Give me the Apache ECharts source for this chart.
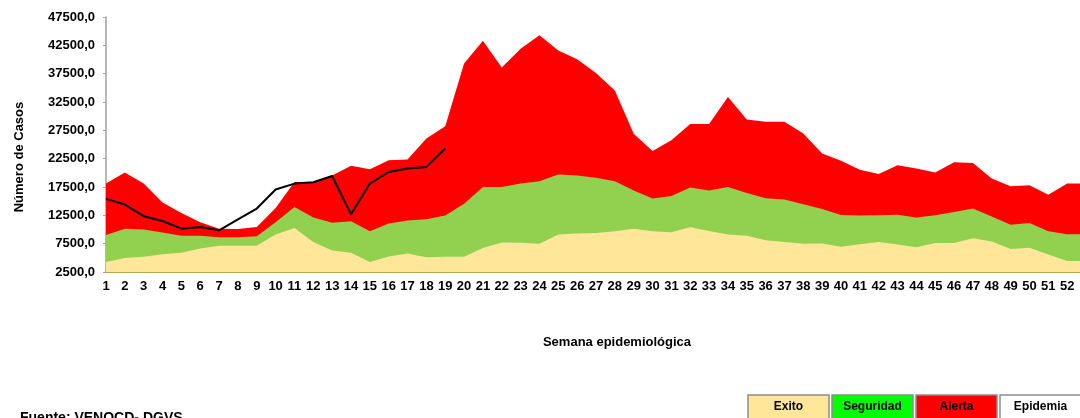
<!DOCTYPE html>
<html>
<head>
<meta charset="utf-8">
<title>Canal endémico</title>
<script src="https://cdn.jsdelivr.net/npm/echarts@6/dist/echarts.min.js"></script>
<style>
  html, body { margin: 0; padding: 0; background: #fff; }
  #chart { width: 1080px; height: 418px; }
</style>
</head>
<body>
<div id="chart"></div>
<script>
  // semanas (53 = continuation cut off at the right edge)
  const semanas = ['1','2','3','4','5','6','7','8','9','10','11','12','13','14','15','16','17','18','19','20',
    '21','22','23','24','25','26','27','28','29','30','31','32','33','34','35','36','37','38','39','40',
    '41','42','43','44','45','46','47','48','49','50','51','52','53']

  // upper limit of each zone
  const exito = [4250, 4950, 5200, 5650, 5900, 6650, 7150, 7150, 7150, 9100, 10250, 7800, 6300, 5900, 4250, 5250, 5750, 5100, 5200, 5200,
    6750, 7700, 7650, 7500, 9100, 9300, 9400, 9700, 10150, 9700, 9500, 10400, 9750, 9100, 8900, 8100, 7800, 7500, 7550, 6950,
    7400, 7800, 7350, 6850, 7600, 7600, 8450, 7900, 6550, 6800, 5600, 4450, 4450]
  const seguridad = [9050, 10150, 10000, 9450, 8900, 8900, 8650, 8650, 8800, 11300, 13950, 12100, 11200, 11450, 9700, 11050, 11600, 11800, 12450, 14550,
    17500, 17500, 18100, 18500, 19700, 19550, 19150, 18500, 16900, 15450, 15900, 17400, 16900, 17500, 16450, 15500, 15300, 14450, 13600, 12550,
    12450, 12500, 12600, 12100, 12500, 13100, 13700, 12300, 10850, 11150, 9700, 9150, 9150]
  const alerta = [18100, 20050, 18100, 14750, 12900, 11300, 10150, 10100, 10450, 13800, 18400, 18400, 19550, 21250, 20650, 22200, 22350, 26050, 28200, 39300,
    43300, 38600, 41900, 44300, 41600, 40050, 37600, 34550, 26900, 23850, 25750, 28600, 28600, 33400, 29400, 29000, 29000, 26950, 23400, 22150,
    20550, 19800, 21350, 20750, 20050, 21850, 21750, 19000, 17650, 17800, 16150, 18100, 18100]
  // casos del año (semanas 1-19)
  const casos = [15400, 14400, 12350, 11500, 10150, 10450, 9850, 11800, 13700, 17050, 18100, 18350, 19450, 12700, 18100, 20150, 20750, 21050, 24300]

  const leyenda = [
    { name: 'Exito', color: '#FFE699' },
    { name: 'Seguridad', color: '#00FF00' },
    { name: 'Alerta', color: '#FF0000' },
    { name: 'Epidemia', color: '#FFFFFF' }
  ]

  const font = '"Liberation Sans", Arial, sans-serif'

  function zona(name, data, color) {
    return {
      name: name,
      type: 'line',
      data: data,
      symbol: 'none',
      silent: true,
      lineStyle: { width: 0 },
      areaStyle: { color: color, opacity: 1, origin: 'start' }
    }
  }

  const legendBoxes = []
  leyenda.forEach((item, i) => {
    const x = 748 + i * 84
    legendBoxes.push({
      type: 'rect',
      shape: { x: x, y: 395, width: 81, height: 30 },
      style: { fill: item.color, stroke: '#8c8c8c', lineWidth: 1.5 }
    })
    legendBoxes.push({
      type: 'text',
      x: x + 40.5,
      y: 407,
      style: {
        text: item.name,
        fill: '#000',
        font: 'bold 12px ' + font,
        textAlign: 'center',
        textVerticalAlign: 'middle'
      }
    })
  })

  const chart = echarts.init(document.getElementById('chart'))
  chart.setOption({
    animation: false,
    grid: { left: 106, top: 17, width: 980, height: 255, outerBoundsMode: 'none', containLabel: false },
    xAxis: {
      type: 'category',
      data: semanas,
      boundaryGap: false,
      axisLine: { lineStyle: { color: '#B4A84A', width: 2 } },
      axisTick: { inside: true, length: 4, alignWithLabel: true, lineStyle: { color: '#555' } },
      axisLabel: {
        interval: 0,
        margin: 8,
        color: '#000',
        fontWeight: 'bold',
        fontSize: 13,
        fontFamily: font,
        formatter: (v) => (v === '53' ? '' : v)
      },
      splitLine: { show: false }
    },
    yAxis: {
      type: 'value',
      min: 2500,
      max: 47500,
      interval: 5000,
      axisLine: { show: true, lineStyle: { color: '#a0a0a0', width: 1.5 } },
      axisTick: { show: true, length: 3, lineStyle: { color: '#a0a0a0' } },
      axisLabel: {
        margin: 11,
        color: '#000',
        fontWeight: 'bold',
        fontSize: 13,
        fontFamily: font,
        formatter: (v) => v.toFixed(1).replace('.', ',')
      },
      splitLine: { show: false }
    },
    series: [
      zona('Alerta', alerta, '#FF0000'),
      zona('Seguridad', seguridad, '#92D050'),
      zona('Exito', exito, '#FFE699'),
      {
        name: 'Epidemia',
        type: 'line',
        data: casos,
        symbol: 'none',
        lineStyle: { color: '#000', width: 2 },
        z: 5
      }
    ],
    graphic: [
      {
        type: 'text',
        x: 19,
        y: 157,
        rotation: Math.PI / 2,
        style: {
          text: 'Número de Casos',
          fill: '#000',
          font: 'bold 13px ' + font,
          textAlign: 'center',
          textVerticalAlign: 'middle'
        }
      },
      {
        type: 'text',
        x: 617,
        y: 342,
        style: {
          text: 'Semana epidemiológica',
          fill: '#000',
          font: 'bold 13px ' + font,
          textAlign: 'center',
          textVerticalAlign: 'middle'
        }
      },
      {
        type: 'text',
        x: 20,
        y: 411,
        style: {
          text: 'Fuente: VENOCD- DGVS',
          fill: '#000',
          font: 'bold 14px ' + font,
          textAlign: 'left',
          textVerticalAlign: 'top'
        }
      }
    ].concat(legendBoxes)
  })
</script>
</body>
</html>
